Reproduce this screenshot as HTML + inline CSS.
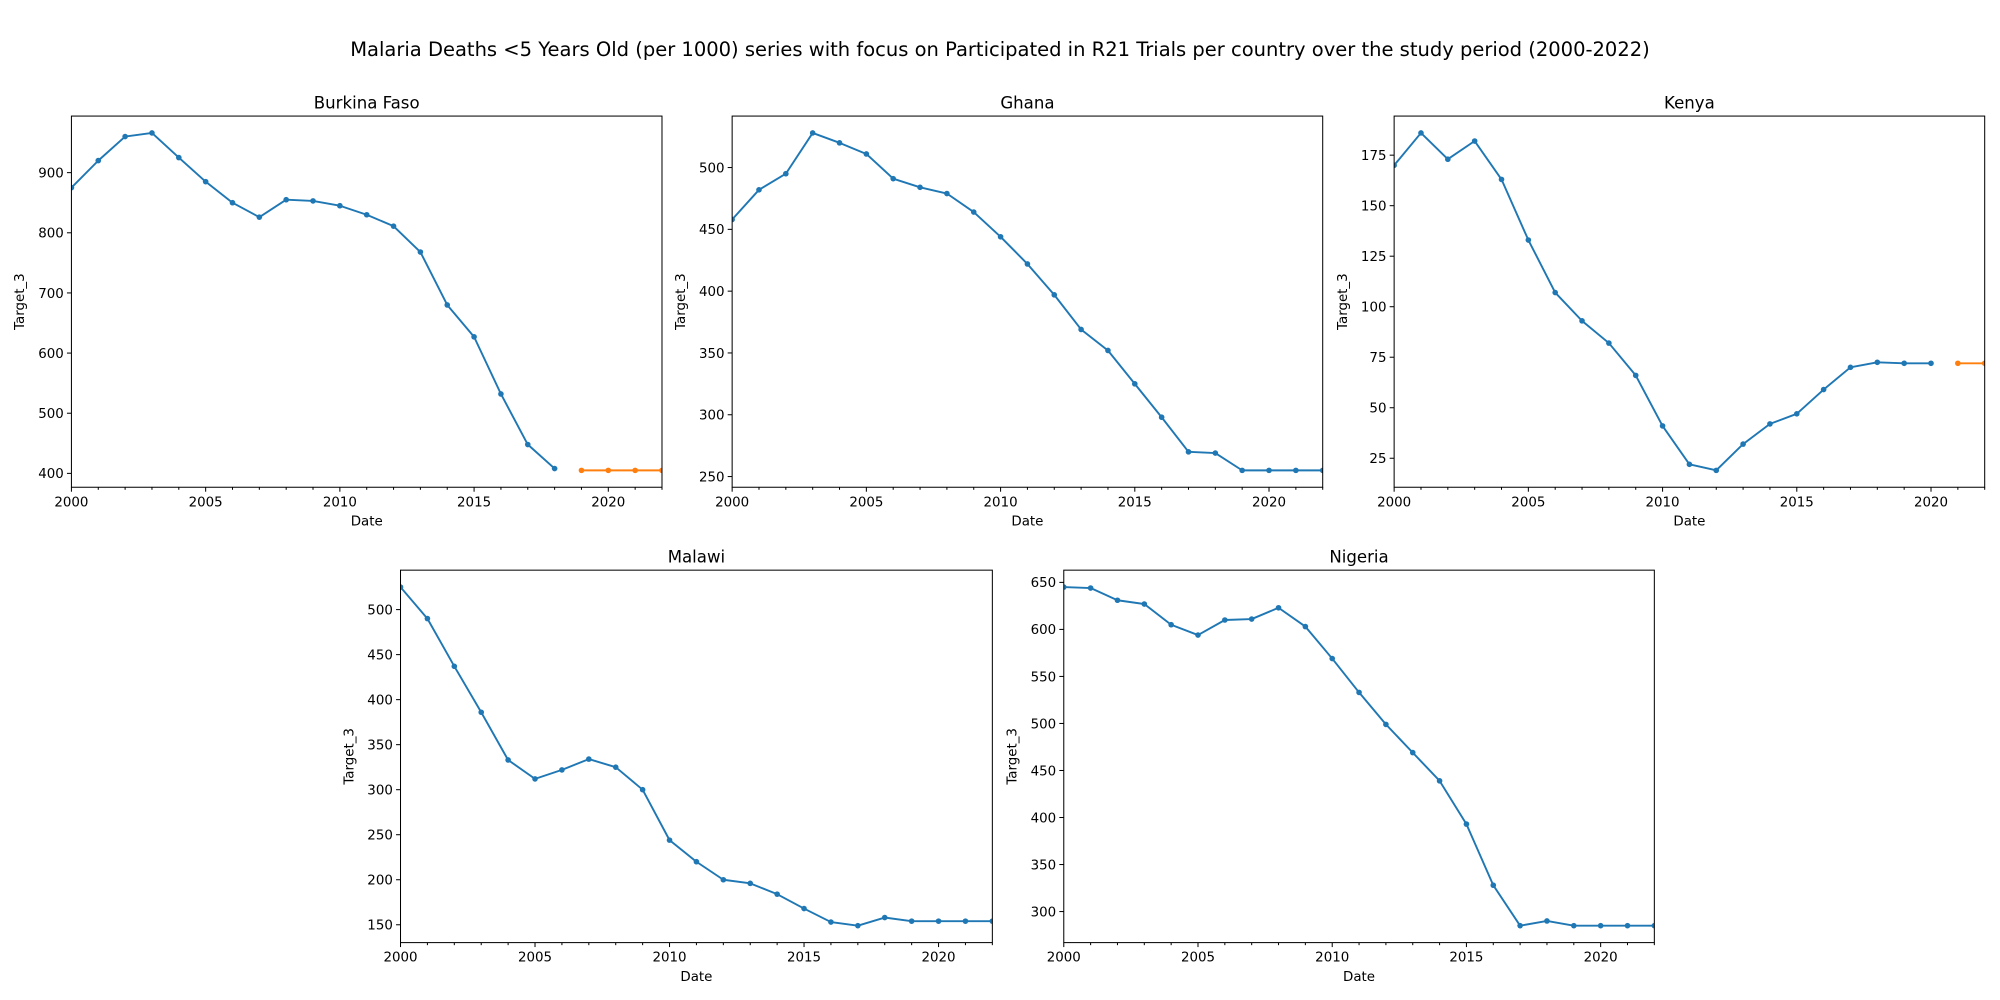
<!DOCTYPE html>
<html><head><meta charset="utf-8"><style>
html,body{margin:0;padding:0;background:#fff;}
svg{display:block;}
text{font-family:"DejaVu Sans","Liberation Sans",sans-serif;fill:#000;}
</style></head><body>
<svg id="fig" width="2000" height="1000" viewBox="0 0 1568 784" preserveAspectRatio="none" xmlns="http://www.w3.org/2000/svg">
<rect width="1568" height="784" fill="#fff"/>
<text x="784" y="44" text-anchor="middle" font-size="15.3">Malaria Deaths &lt;5 Years Old (per 1000) series with focus on Participated in R21 Trials per country over the study period (2000-2022)</text>
</svg>
<script>
const years = [2000,2001,2002,2003,2004,2005,2006,2007,2008,2009,2010,2011,2012,2013,2014,2015,2016,2017,2018,2019,2020,2021,2022];
const countries = ["Burkina Faso","Ghana","Kenya","Malawi","Nigeria"];
const burkinaBlue = [875,920,960,966,925,885,850,826,855,853,845,830,811,768,680,627,532,448,408];
const burkinaOrange = [405,405,405,405];
const ghanaBlue = [458,482,495,528,520,511,491,484,479,464,444,422,397,369,352,325,298,270,269,255,255,255,255];
const ghanaOrange = [];
const kenyaBlue = [170,186,173,182,163,133,107,93,82,66,41,22,19,32,42,47,59,70,72.5,72,72];
const kenyaOrange = [72,72];
const malawiBlue = [525,490,437,386,333,312,322,334,325,300,244,220,200,196,184,168,153,149,158,154,154,154,154];
const malawiOrange = [];
const nigeriaBlue = [645,644,631,627,605,594,610,611,623,603,569,533,499,469,439,393,328,285,290,285,285,285,285];
const nigeriaOrange = [];
const burkinaTicks = [400,500,600,700,800,900];
const ghanaTicks = [250,300,350,400,450,500];
const kenyaTicks = [25,50,75,100,125,150,175];
const malawiTicks = [150,200,250,300,350,400,450,500];
const nigeriaTicks = [300,350,400,450,500,550,600,650];
const xTickLabels = [2000,2005,2010,2015,2020];

const panels = [
 {name:countries[0], blue:burkinaBlue, orange:burkinaOrange, ticks:burkinaTicks, x0:56, x1:519, y0:91, y1:382},
 {name:countries[1], blue:ghanaBlue, orange:ghanaOrange, ticks:ghanaTicks, x0:574, x1:1037, y0:91, y1:382},
 {name:countries[2], blue:kenyaBlue, orange:kenyaOrange, ticks:kenyaTicks, x0:1093, x1:1556, y0:91, y1:382},
 {name:countries[3], blue:malawiBlue, orange:malawiOrange, ticks:malawiTicks, x0:314, x1:778, y0:447, y1:739},
 {name:countries[4], blue:nigeriaBlue, orange:nigeriaOrange, ticks:nigeriaTicks, x0:834, x1:1297, y0:447, y1:739}
];
const NS="http://www.w3.org/2000/svg";
const svg=document.getElementById('fig');
function mk(tag,attrs,parent){const e=document.createElementNS(NS,tag);for(const k in attrs)e.setAttribute(k,attrs[k]);(parent||svg).appendChild(e);return e;}
const slug=s=>s.toLowerCase().replace(/\s+/g,'-');
panels.forEach(p=>{
  const all=p.blue.concat(p.orange);
  const mn=Math.min(...all), mx=Math.max(...all), m=(mx-mn)*0.05;
  const ylo=mn-m, yhi=mx+m;
  const xs=v=>p.x0+(v-years[0])/(years[years.length-1]-years[0])*(p.x1-p.x0);
  const ys=v=>p.y1-(v-ylo)/(yhi-ylo)*(p.y1-p.y0);
  const g=mk('g',{});
  
  
  const t=mk('text',{x:(p.x0+p.x1)/2,y:p.y0-6,'text-anchor':'middle','font-size':13},g);t.textContent=p.name;
  
  
  const cid='clip-'+slug(p.name);
  const cp=mk('clipPath',{id:cid},g);mk('rect',{x:p.x0,y:p.y0,width:p.x1-p.x0,height:p.y1-p.y0},cp);
  const plot=mk('g',{'clip-path':'url(#'+cid+')'},g);
  function series(vals,startIdx,color,nm){
    if(!vals.length)return;
    const pts=vals.map((v,i)=>xs(years[startIdx+i]).toFixed(2)+','+ys(v).toFixed(2)).join(' ');
    const pl=mk('polyline',{points:pts,fill:'none',stroke:color,'stroke-width':1.5,'stroke-linejoin':'round'},plot);
    
    
    vals.forEach((v,i)=>{
      const c=mk('circle',{cx:xs(years[startIdx+i]),cy:ys(v),r:2.2,fill:color},plot);
      
      
    });
  }
  series(p.blue,0,'#1f77b4','actual');
  series(p.orange,p.blue.length,'#ff7f0e','forecast');
  mk('rect',{x:p.x0,y:p.y0,width:p.x1-p.x0,height:p.y1-p.y0,fill:'none',stroke:'#000','stroke-width':0.8},g);
  years.forEach(yv=>{
    const major=xTickLabels.includes(yv);
    mk('line',{x1:xs(yv),x2:xs(yv),y1:p.y1,y2:p.y1+(major?3.5:2),stroke:'#000','stroke-width':0.8},g);
  });
  xTickLabels.forEach(yv=>{
    const tx=mk('text',{x:xs(yv),y:p.y1+15,'text-anchor':'middle','font-size':10.5},g);tx.textContent=yv;
    
    
  });
  p.ticks.forEach(v=>{
    mk('line',{x1:p.x0-3.5,x2:p.x0,y1:ys(v),y2:ys(v),stroke:'#000','stroke-width':0.8},g);
    const ty=mk('text',{x:p.x0-6,y:ys(v)+3.8,'text-anchor':'end','font-size':10.5},g);ty.textContent=v;
    
    
  });
  const xl=mk('text',{x:(p.x0+p.x1)/2,y:p.y1+30,'text-anchor':'middle','font-size':10.5},g);xl.textContent='Date';
  
  
  const cy=(p.y0+p.y1)/2, cx=p.x0-37;
  const yl=mk('text',{x:cx,y:cy,'text-anchor':'middle','font-size':10.5,transform:'rotate(-90 '+cx+' '+cy+')'},g);yl.textContent='Target_3';
  
  
});
</script>
</body></html>
